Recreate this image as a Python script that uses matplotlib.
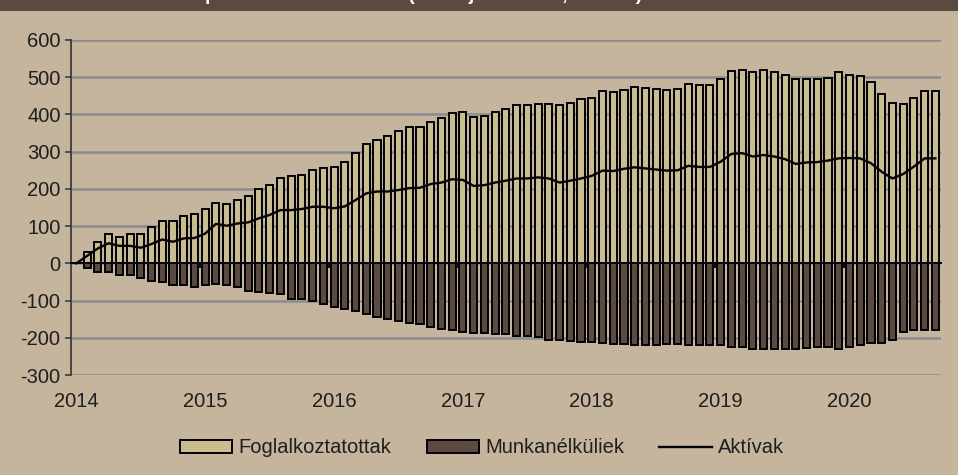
import matplotlib
matplotlib.use("Agg")
import matplotlib.pyplot as plt
from matplotlib.patches import Rectangle
import numpy as np
import pandas as pd

plt.rcParams['font.family'] = ['Liberation Sans', 'DejaVu Sans']
plt.rcParams['axes.unicode_minus'] = False

# havi adatok, 2014 január = 0 (ezer fő)
months = pd.date_range("2014-01-01", periods=81, freq="MS")

foglalkoztatottak = [
    0, 30, 58, 80, 72, 80, 80, 97, 114, 114, 128, 132,
    145, 163, 159, 169, 180, 200, 210, 228, 235, 238, 252, 255,
    259, 273, 297, 321, 331, 341, 356, 366, 366, 380, 390, 404,
    407, 393, 397, 407, 414, 425, 425, 428, 428, 425, 432, 442,
    445, 462, 459, 466, 473, 472, 469, 466, 469, 483, 479, 479,
    496, 517, 520, 513, 520, 513, 507, 495, 495, 496, 499, 513,
    507, 503, 486, 456, 432, 428, 445, 462, 462,
]
munkanelkuliek = [
    0, -13, -22, -24, -31, -31, -39, -47, -50, -59, -59, -63,
    -59, -56, -59, -63, -74, -77, -81, -83, -95, -96, -100, -110,
    -116, -122, -129, -136, -143, -149, -156, -161, -164, -170, -176, -178,
    -184, -187, -188, -189, -191, -194, -196, -198, -205, -207, -208, -212,
    -210, -213, -216, -217, -219, -219, -220, -218, -217, -220, -220, -220,
    -220, -224, -224, -229, -229, -231, -229, -231, -227, -224, -224, -231,
    -224, -220, -213, -213, -206, -185, -179, -179, -179,
]
aktivak = [
    0, 20, 40, 54, 47, 47, 42, 52, 64, 58, 67, 68,
    80, 106, 101, 107, 110, 121, 130, 143, 143, 146, 152, 152,
    148, 153, 170, 188, 193, 193, 197, 202, 203, 213, 217, 226,
    224, 208, 210, 217, 222, 228, 228, 231, 228, 217, 222, 228,
    235, 249, 248, 254, 258, 255, 252, 249, 250, 262, 259, 259,
    273, 294, 296, 287, 291, 287, 280, 267, 271, 272, 276, 282,
    283, 282, 269, 246, 228, 240, 260, 282, 282,
]

cim = "Munkaerőpiaci létszámváltozás (2014. január óta, ezer fő)"

bg = '#C4B59C'
light = '#C9BD8C'
dark = '#5A4A40'
grid_c = '#8A8C90'
txt = '#1E1E1E'

x = np.arange(len(months))
jan_idx = x[months.month == 1]
year_labels = [str(y) for y in months.year[months.month == 1]]
year_bounds = jan_idx[1:] - 0.5

fig = plt.figure(figsize=(9.58, 4.75), dpi=100)
fig.patch.set_facecolor(bg)

# sötét címsáv a kép tetején (a cím nagy része kilóg a képből, mint az eredetin)
fig.patches.append(Rectangle((0, 1 - 10.5 / 475), 1, 10.5 / 475,
                             transform=fig.transFigure, facecolor=dark,
                             edgecolor='none', zorder=0))
fig.text(0.118, 1 + 0.5 / 475, cim, color='white', fontweight='bold',
         fontsize=14, ha='left', va='baseline')

ax = fig.add_axes([0.0741, 0.2105, 0.9079, 0.7053])
ax.set_facecolor(bg)

b1 = ax.bar(x, foglalkoztatottak, width=0.66, color=light, edgecolor='black',
            linewidth=1.4, zorder=2, label='Foglalkoztatottak')
b2 = ax.bar(x, munkanelkuliek, width=0.66, color=dark, edgecolor='black',
            linewidth=1.4, zorder=2, label='Munkanélküliek')
l1, = ax.plot(x, aktivak, color='black', lw=1.7, zorder=4, label='Aktívak')

ax.set_xlim(-0.5, len(x) - 0.5)
ymin, ymax = -300, 600
ax.set_ylim(ymin, ymax)
ax.set_yticks(np.arange(ymin, ymax + 1, 100))
ax.yaxis.grid(True, color=grid_c, lw=1.8)
ax.set_axisbelow(True)

for s in ['top', 'right', 'bottom']:
    ax.spines[s].set_visible(False)
ax.spines['left'].set_color('#333333')
ax.spines['left'].set_linewidth(1.2)

ax.set_xticks(jan_idx)
ax.set_xticklabels(year_labels)
ax.tick_params(axis='x', length=0, pad=12, labelsize=14.5, labelcolor=txt)
ax.tick_params(axis='y', length=4.5, width=1.1, color='#333333', pad=3,
               labelsize=14.5, labelcolor=txt)

# nullvonal évhatár-jelölőkkel
zero_pos = (0 - ymin) / (ymax - ymin)
sec = ax.secondary_xaxis(zero_pos)
sec.set_xticks(year_bounds)
sec.tick_params(axis='x', length=3.5, width=1.3, direction='out',
                color='black', labelbottom=False, labeltop=False)
for s in sec.spines.values():
    s.set_color('black')
    s.set_linewidth(1.4)
sec.set_zorder(3)

leg = ax.legend(handles=[b1, b2, l1], loc='center', bbox_to_anchor=(0.503, 0.057),
                bbox_transform=fig.transFigure, ncol=3, frameon=False,
                fontsize=14.5, handlelength=2.6, handleheight=0.6,
                handletextpad=0.3, columnspacing=1.75)
for t in leg.get_texts():
    t.set_color(txt)

fig.savefig('out.png', dpi=100, facecolor=bg)
